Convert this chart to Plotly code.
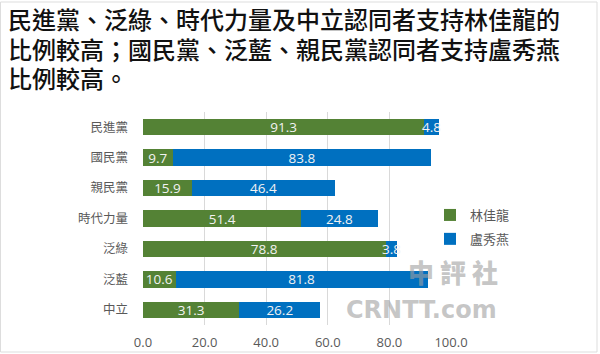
import plotly.graph_objects as go

categories = ["民進黨", "國民黨", "親民黨", "時代力量", "泛綠", "泛藍", "中立"]
lin_values = [91.3, 9.7, 15.9, 51.4, 78.8, 10.6, 31.3]
lu_values = [4.8, 83.8, 46.4, 24.8, 3.8, 81.8, 26.2]
series_names = ["林佳龍", "盧秀燕"]
x_ticks = [0, 20, 40, 60, 80, 100]
x_tick_labels = ["0.0", "20.0", "40.0", "60.0", "80.0", "100.0"]
title_lines = ["民進黨、泛綠、時代力量及中立認同者支持林佳龍的",
               "比例較高；國民黨、泛藍、親民黨認同者支持盧秀燕",
               "比例較高。"]

GREEN = "#548235"
BLUE = "#0070C0"
GRAY = "#595959"
CJK = "Noto Sans CJK TC, Noto Sans, sans-serif"
NUM = "Open Sans, Noto Sans, sans-serif"

# plot area in pixels
L, R, T, B = 143, 451, 112, 325
W, H = R - L, B - T

def px(x):
    return (x - L) / W

def py(y):
    return (B - y) / H

fig = go.Figure()
for name, vals, col in [(series_names[0], lin_values, GREEN), (series_names[1], lu_values, BLUE)]:
    fig.add_trace(go.Bar(
        y=categories, x=vals, name=name, orientation="h", legendgroup=name,
        marker=dict(color=col, line=dict(width=0)),
        text=[f"{v:.1f}" for v in vals],
        textposition="inside", insidetextanchor="middle",
        constraintext="none", textangle=0,
        textfont=dict(color="#f2f2f2", size=13.5, family=NUM),
        hoverinfo="skip",
    ))

fig.update_layout(
    width=600, height=354,
    barmode="stack", bargap=0.46,
    paper_bgcolor="white", plot_bgcolor="white",
    margin=dict(l=L, r=600 - R, t=T, b=354 - B, autoexpand=False),
    legend=dict(x=px(430), xanchor="left", y=py(227), yanchor="middle",
                font=dict(family=CJK, size=13, color=GRAY),
                itemwidth=30, tracegroupgap=4, traceorder="grouped",
                bgcolor="rgba(0,0,0,0)"),
    showlegend=True,
    xaxis=dict(range=[0, 100], tickvals=x_ticks, ticktext=x_tick_labels,
               showgrid=True, gridcolor="#d9d9d9", gridwidth=1,
               zeroline=False, showline=False, ticks="", automargin=False,
               tickfont=dict(family=NUM, size=13, color=GRAY),
               ticklabelstandoff=8),
    yaxis=dict(autorange="reversed", showgrid=False, showline=False, ticks="",
               automargin=False,
               tickfont=dict(family=CJK, size=12.5, color=GRAY),
               ticklabelstandoff=14),
    font=dict(family=CJK),
)

# title lines
for i, line in enumerate(title_lines):
    fig.add_annotation(text=line, x=px(6), y=py(19 + 29 * i), xref="paper", yref="paper",
                       xanchor="left", yanchor="middle", align="left", showarrow=False,
                       font=dict(family=CJK, size=24, color="#111111", weight=500))

# watermark
fig.add_annotation(text="中 評 社", x=px(500), y=py(292), xref="paper", yref="paper",
                   showarrow=False, font=dict(family=CJK, size=26, color="rgba(160,160,160,0.6)", weight=900))
fig.add_annotation(text="CRNTT.com", x=px(499), y=py(326), xref="paper", yref="paper",
                   showarrow=False, font=dict(family="DejaVu Sans, sans-serif", size=24, color="rgba(160,160,160,0.6)", weight=900))

# light frame
fig.add_shape(type="rect", xref="paper", yref="paper", x0=px(0.5), x1=px(597),
              y0=py(352), y1=py(2),
              line=dict(color="#dddddd", width=1), fillcolor="rgba(0,0,0,0)", layer="below")

fig.write_html("out.html")
